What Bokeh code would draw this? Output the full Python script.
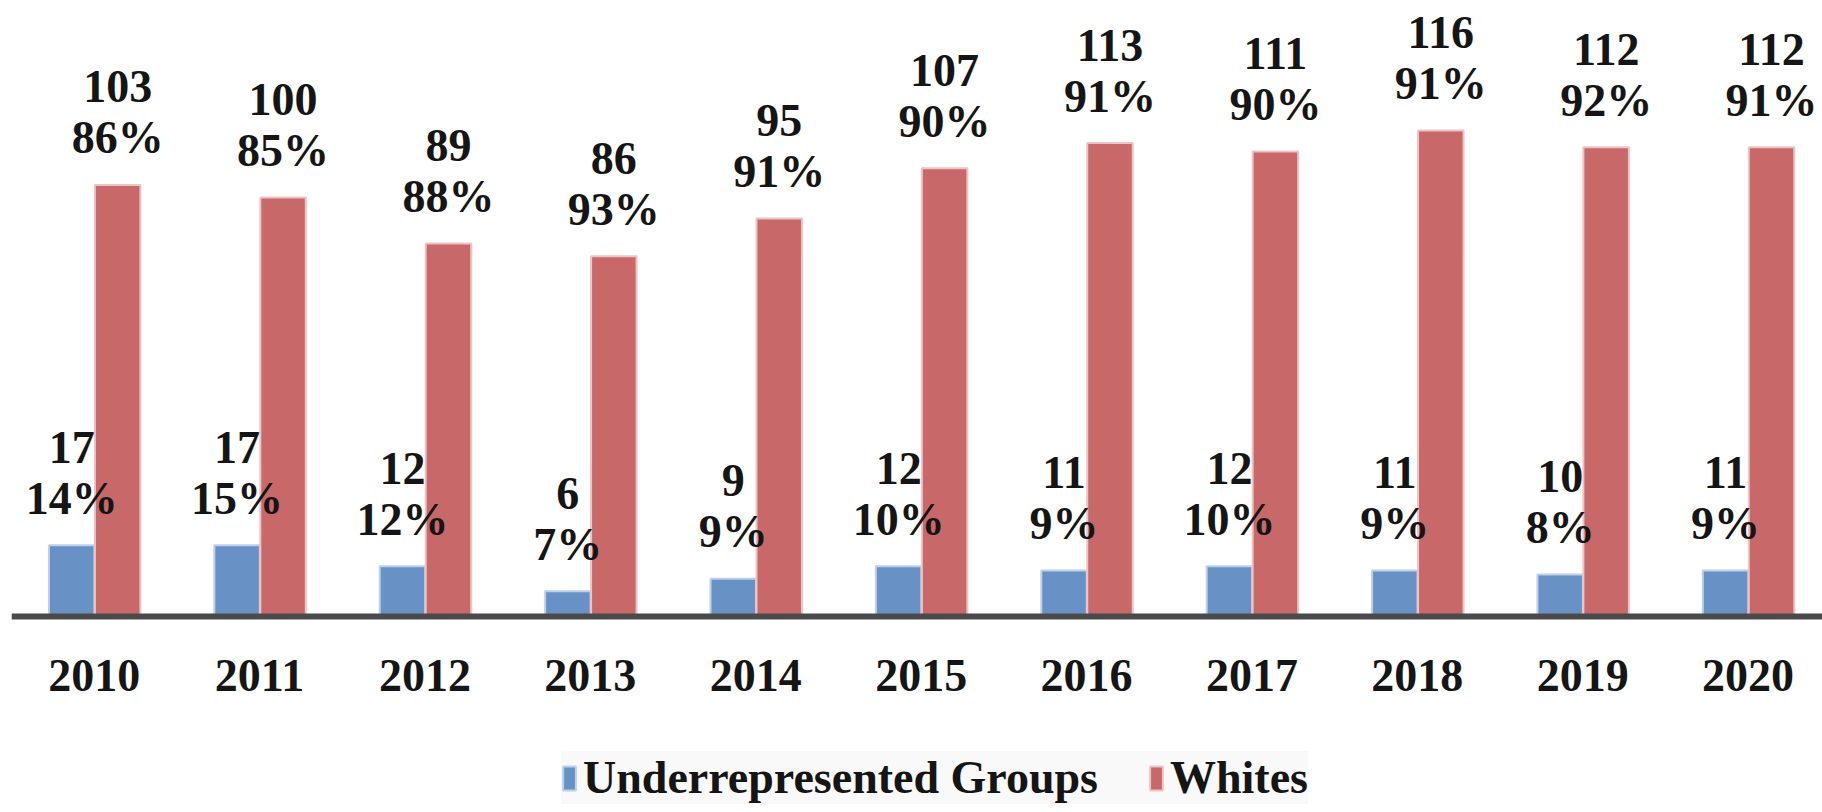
from bokeh.plotting import figure
from bokeh.models import Range1d, Legend, LegendItem, ColumnDataSource, FixedTicker
from bokeh.transform import dodge
from bokeh.embed import file_html
from bokeh.resources import INLINE
from bokeh.core.properties import value

years = ["2010", "2011", "2012", "2013", "2014", "2015", "2016", "2017", "2018", "2019", "2020"]
under = [17, 17, 12, 6, 9, 12, 11, 12, 11, 10, 11]
under_pct = [14, 15, 12, 7, 9, 10, 9, 10, 9, 8, 9]
whites = [103, 100, 89, 86, 95, 107, 113, 111, 116, 112, 112]
whites_pct = [86, 85, 88, 93, 91, 90, 91, 90, 91, 92, 91]

BLUE = "#6892c6"
BLUE_EDGE = "#bcd0ea"
RED = "#c96868"
RED_EDGE = "#ecc4c4"
FONT = value("Liberation Serif")

x = list(range(len(years)))
src = ColumnDataSource(dict(
    x=x,
    under=under,
    whites=whites,
    under_lbl=[str(v) for v in under],
    under_pct_lbl=[f"{v}%" for v in under_pct],
    whites_lbl=[str(v) for v in whites],
    whites_pct_lbl=[f"{v}%" for v in whites_pct],
))

PX_PER_UNIT = 4.19
p = figure(width=1822, height=804,
           x_range=Range1d(-0.5, 10.45),
           y_range=Range1d(-188 / PX_PER_UNIT, 608 / PX_PER_UNIT),
           output_backend="svg", toolbar_location=None,
           y_axis_location=None,
           min_border_left=11, min_border_right=0, min_border_top=8,
           min_border_bottom=0,
           outline_line_color=None)
p.grid.grid_line_color = None

BO = -0.136
WO = 0.142
BW = 0.275

r1 = p.vbar(x=dodge("x", BO), top="under", width=BW, source=src,
            fill_color=BLUE, line_color=BLUE_EDGE, line_width=2)
r2 = p.vbar(x=dodge("x", WO), top="whites", width=BW, source=src,
            fill_color=RED, line_color=RED_EDGE, line_width=2)

lab = dict(text_align="center", text_baseline="alphabetic", text_font=FONT,
           text_font_style="bold", text_font_size="46px", text_color="#151515")
p.text(x=dodge("x", BO), y="under", text="under_pct_lbl", y_offset=-47, source=src, **lab)
p.text(x=dodge("x", BO), y="under", text="under_lbl", y_offset=-98, source=src, **lab)
p.text(x=dodge("x", WO), y="whites", text="whites_pct_lbl", y_offset=-47, source=src, **lab)
p.text(x=dodge("x", WO), y="whites", text="whites_lbl", y_offset=-98, source=src, **lab)

ax = p.xaxis[0]
ax.fixed_location = 0
ax.ticker = FixedTicker(ticks=x)
ax.major_label_overrides = {i: y for i, y in zip(x, years)}
ax.major_tick_in = 0
ax.major_tick_out = 0
ax.minor_tick_in = 0
ax.minor_tick_out = 0
ax.axis_line_width = 6
ax.axis_line_color = "#4a4a4a"
ax.major_label_text_font = "Liberation Serif"
ax.major_label_text_font_style = "bold"
ax.major_label_text_font_size = "46px"
ax.major_label_text_color = "#151515"
ax.major_label_standoff = 43

legend = Legend(items=[LegendItem(label="Underrepresented Groups", renderers=[r1]),
                       LegendItem(label="Whites", renderers=[r2])],
                orientation="horizontal", location=(550, 0),
                label_text_font="Liberation Serif", label_text_font_style="bold",
                label_text_font_size="46px", label_text_color="#151515",
                glyph_width=16, glyph_height=30, label_standoff=6, spacing=50,
                padding=10, margin=0,
                background_fill_color="#f9f9f9", border_line_color=None)
p.add_layout(legend, "center")

open("out.html", "w").write(file_html(p, INLINE))
